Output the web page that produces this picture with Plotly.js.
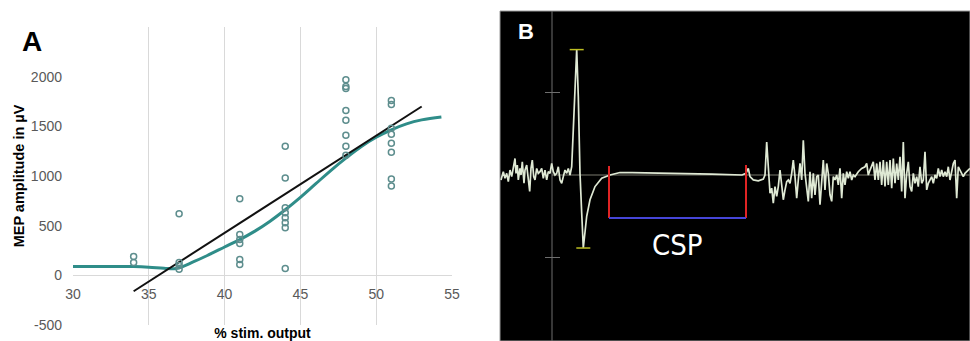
<!DOCTYPE html>
<html>
<head>
<meta charset="utf-8">
<script src="https://cdn.plot.ly/plotly-3.0.1.min.js"></script>
<style>html,body{margin:0;padding:0;background:#fff;}#chart{width:970px;height:341px;}</style>
</head>
<body>
<div id="chart"></div>
<script>
// ---------- Panel A data ----------
var stimX = [34,34, 37,37,37,37, 41,41,41,41,41,41, 44,44,44,44,44,44,44,44, 48,48,48,48,48,48,48,48, 51,51,51,51,51,51,51,51];
var mepY  = [190,130, 620,130,100,60, 770,410,360,320,160,110, 1300,980,680,630,580,530,480,70, 1970,1900,1880,1660,1560,1410,1300,1210, 1760,1720,1480,1420,1330,1240,970,900];
var fitX = [30,31,32,33,34,35,36,36.8,38,39,40,41,42,43,44,45,46,47,48,49,50,51,52,53,54.3];
var fitY = [90,90,90,90,88,82,72,68,140,210,285,360,445,545,660,785,920,1055,1180,1295,1390,1465,1525,1565,1595];
var linX = [34,53];
var linY = [-160,1700];
var xTicksA = [30,35,40,45,50,55];
var yTicksA = [-500,0,500,1000,1500,2000];

// ---------- Panel B data (t in ms, v in mV) ----------
var emgT = [-51,-48.7,-47,-45.3,-43.7,-42,-40.3,-38.7,-37,-36,-34.7,-33.7,-32,-31,-29.7,-28,-27,-25.3,-23.7,-22.3,-21,-19.7,-18.3,-17,-15.3,-13.7,-12,-10.3,-8.7,-7,-5.3,-3.7,-2,-0.3,1.3,3,4.7,6.3,8,9.7,11.3,13,14.7,16.3,18,19.7,21.3,23,24.7,26.3,28,29.7,31.3,34.7,38,43,49.7,58,68,80,110,130,160,190,194,
  196.3,198,201.3,206.3,211.3,213,214.7,216.3,218,219.7,221.3,223,224.7,226.3,228,229.7,231.3,233,234.7,236.3,238,239.7,241.3,243,244.7,246.3,248,249.7,251.3,253,254.7,256.3,258,259.7,261.3,263,264.7,266.3,268,269.7,271.3,273,274.7,276.3,278,279.7,281.3,283,284.7,286.3,288,289.7,291.3,293,294.7,296.3,298,299.7,301.3,303,304.7,306.3,
  309.7,313,314.7,316.3,318,321.3,323,324.7,326.3,328,329.7,331.3,333,334.7,336.3,338,339.7,341.3,343,344.7,346.3,348,349.7,351.3,353,354.7,356.3,358,359.7,361.3,363,364.7,366.3,368,369.7,371.3,373,374.7,376.3,378,379.7,381.3,383,384.7,386.3,388,389.7,391.3,393,394.7,396.3,398,399.7,401.3,403,404.7,406.3,408,409.7,411.3,413,416.3,418];
var emgV = [-0.06,0.04,-0.04,0.02,-0.08,0.06,-0.02,0.10,0.20,0.02,0.12,-0.06,0.08,0.0,0.16,-0.10,0.06,0.12,-0.02,-0.20,0.08,0.18,-0.02,-0.06,0.08,0.02,0.04,0.08,-0.04,0.06,-0.06,0.04,0.02,0.14,0.04,0.0,0.02,0.10,-0.06,-0.10,-0.02,0.06,0.02,0.08,0.0,0.10,0.55,1.15,1.52,0.95,0.02,-0.46,-0.885,-0.50,-0.30,-0.14,-0.04,0.0,0.03,0.03,0.025,0.02,0.01,0.0,0.02,
  0.08,-0.02,-0.06,-0.07,-0.05,0.0,0.40,0.06,-0.22,-0.16,-0.34,-0.14,-0.26,-0.14,0.06,-0.12,-0.30,-0.18,-0.08,-0.06,-0.10,0.02,0.18,-0.02,-0.28,-0.06,0.14,-0.06,0.42,0.02,-0.16,-0.32,0.04,-0.28,0.02,-0.24,-0.02,0.0,-0.36,-0.10,0.18,-0.18,0.14,0.02,-0.24,-0.32,-0.02,-0.06,0.0,-0.12,0.08,-0.28,0.02,-0.12,0.04,-0.04,0.04,-0.06,0.0,-0.02,0.02,0.04,
  0.08,0.10,0.14,0.0,0.06,0.16,-0.06,0.14,-0.06,0.16,-0.12,0.18,-0.14,0.16,-0.12,0.18,-0.16,0.20,-0.10,0.14,-0.06,0.22,-0.20,0.40,-0.28,0.02,0.16,-0.14,-0.20,0.02,-0.10,-0.02,-0.14,0.10,-0.10,-0.06,0.28,-0.18,-0.10,-0.06,-0.02,-0.10,0.0,-0.04,0.08,-0.02,0.06,-0.02,0.04,-0.02,0.10,-0.06,0.04,0.14,0.18,-0.28,0.10,0.06,0.02,-0.02,0.02,0.06,0.08];
var capT = [24.7, 31.3];          // MEP peak and trough markers
var capV = [1.52, -0.885];
var cspStart = 57, cspEnd = 194;   // ms
var cspTop = 0.11, cspBottom = -0.52;
var yTicksB = [1, -1];
var axisT = 0;

var tracesB = [];
tracesB.push({x:[axisT,axisT], y:[-2.1,2.1], xaxis:'x2', yaxis:'y2', mode:'lines', line:{color:'#6e6e6e', width:1}, hoverinfo:'skip', showlegend:false});
tracesB.push({x:[axisT,418], y:[0,0], xaxis:'x2', yaxis:'y2', mode:'lines', line:{color:'#7a7a6e', width:1}, hoverinfo:'skip', showlegend:false});
yTicksB.forEach(function(v){
  tracesB.push({x:[axisT-7,axisT+8], y:[v,v], xaxis:'x2', yaxis:'y2', mode:'lines', line:{color:'#6e6e6e', width:1}, hoverinfo:'skip', showlegend:false});
});
tracesB.push({x:emgT, y:emgV, xaxis:'x2', yaxis:'y2', mode:'lines', line:{color:'#dfe9d4', width:1.7}, hoverinfo:'skip', showlegend:false});
tracesB.push({x:capT, y:capV, xaxis:'x2', yaxis:'y2', mode:'markers', marker:{symbol:'line-ew-open', size:10, line:{color:'#e8e2a6', width:1.5}}, hoverinfo:'skip', showlegend:false});
tracesB.push({x:[cspStart,cspStart], y:[cspTop,cspBottom], xaxis:'x2', yaxis:'y2', mode:'lines', line:{color:'#e02424', width:2}, hoverinfo:'skip', showlegend:false});
tracesB.push({x:[cspEnd,cspEnd], y:[cspTop+0.01,cspBottom], xaxis:'x2', yaxis:'y2', mode:'lines', line:{color:'#e02424', width:2}, hoverinfo:'skip', showlegend:false});
tracesB.push({x:[cspStart,cspEnd], y:[cspBottom,cspBottom], xaxis:'x2', yaxis:'y2', mode:'lines', line:{color:'#4646d8', width:2}, hoverinfo:'skip', showlegend:false});

var tracesA = [
  {x:fitX, y:fitY, mode:'lines', line:{color:'#2f8d89', width:3, shape:'spline', smoothing:1.1}, hoverinfo:'skip', showlegend:false},
  {x:linX, y:linY, mode:'lines', line:{color:'#111111', width:2}, hoverinfo:'skip', showlegend:false},
  {x:stimX, y:mepY, mode:'markers', marker:{symbol:'circle-open', size:6, color:'#5e8e8e', line:{width:1.5}}, hoverinfo:'skip', showlegend:false}
];

var W = 970, H = 341;
var layout = {
  width:W, height:H,
  margin:{l:0,r:0,t:0,b:0},
  paper_bgcolor:'#ffffff', plot_bgcolor:'rgba(0,0,0,0)',
  font:{family:'Liberation Sans, Arial, sans-serif'},
  xaxis:{domain:[73/W, 452/W], range:[30,55], tickvals:xTicksA, ticktext:xTicksA.map(String),
         showgrid:true, gridcolor:'#d9d9d9', gridwidth:1, zeroline:false, showline:false, ticks:'',
         anchor:'free', position:1-276/H, tickfont:{size:14, color:'#595959'}, ticklabelstandoff:8,
         title:{text:'% stim. output', font:{size:14, color:'#000', weight:'bold'}, standoff:30}},
  yaxis:{domain:[1-325/H, 1-27/H], range:[-500,2500], tickvals:yTicksA, ticktext:yTicksA.map(String),
         showgrid:false, zeroline:true, zerolinecolor:'#d9d9d9', zerolinewidth:1, showline:false, ticks:'',
         anchor:'x', tickfont:{size:14, color:'#595959'}, ticklabelstandoff:10,
         title:{text:'MEP amplitude in µV', font:{size:14.5, color:'#000', weight:'bold'}, standoff:2}},
  xaxis2:{domain:[500/W, 1], range:[-52,418], visible:false, anchor:'y2', fixedrange:true},
  yaxis2:{domain:[0, 1-11/H], range:[-2.012,1.988], visible:false, anchor:'x2', fixedrange:true},
  shapes:[
    {type:'rect', xref:'paper', yref:'paper', x0:500/W, x1:1, y0:0, y1:1-11/H, fillcolor:'#000000', line:{color:'#9a9a9a', width:1}, layer:'below'}
  ],
  annotations:[
    {text:'<b>A</b>', xref:'paper', yref:'paper', x:32/W, y:1-41/H, xanchor:'center', yanchor:'middle', showarrow:false, font:{size:28, color:'#000'}},
    {text:'<b>B</b>', xref:'paper', yref:'paper', x:526/W, y:1-31/H, xanchor:'center', yanchor:'middle', showarrow:false, font:{size:22, color:'#ffffff'}},
    {text:'CSP', xref:'x2', yref:'y2', x:(cspStart+cspEnd)/2, y:-0.85, xanchor:'center', yanchor:'middle', showarrow:false, font:{size:29, color:'#ffffff', family:'Liberation Sans Narrow, DejaVu Sans Condensed, sans-serif'}}
  ]
};

Plotly.newPlot('chart', tracesA.concat(tracesB), layout, {staticPlot:true, displayModeBar:false});
</script>
</body>
</html>
